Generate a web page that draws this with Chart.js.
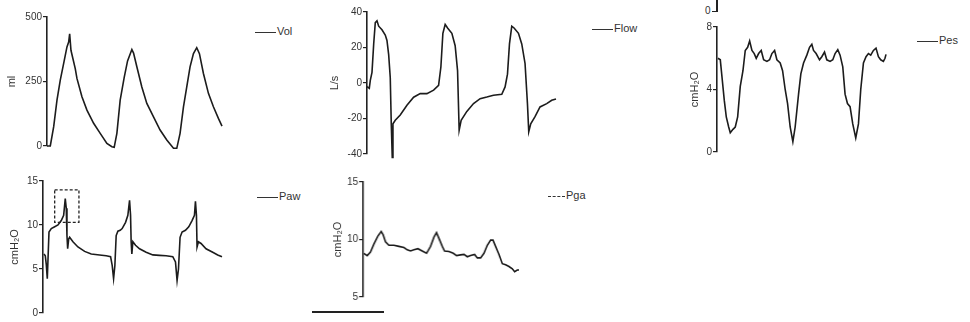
<!DOCTYPE html>
<html>
<head>
<meta charset="utf-8">
<script src="https://cdn.jsdelivr.net/npm/chart.js@4.4.1/dist/chart.umd.min.js"></script>
<style>
body{margin:0;background:#fff;width:970px;height:322px;position:relative;overflow:hidden;font-family:"Liberation Sans",Arial,sans-serif;}
.box{position:absolute;}
.leg{position:absolute;font-size:11px;color:#333;white-space:nowrap;line-height:12px;}
.leg span{display:inline-block;width:21px;border-top:1px solid #333;vertical-align:middle;margin-right:1px;}
.rule{position:absolute;background:#222;}
.lbl{position:absolute;font-size:10px;color:#333;}
</style>
</head>
<body>
<div class="leg" style="left:255px;top:25px"><span></span>Vol</div>
<div class="leg" style="left:592px;top:22px"><span></span>Flow</div>
<div class="leg" style="left:917px;top:34px"><span></span>Pes</div>
<div class="leg" style="left:257px;top:190px"><span></span>Paw</div>
<div class="leg" style="left:548px;top:189px"><span style="width:17px;border-top:1px dashed #333"></span>Pga</div>

<!-- remnant of the panel above Pes, and the scale bar under Pga -->
<div class="rule" style="left:716px;top:0;width:1.5px;height:12px"></div>
<div class="rule" style="left:712px;top:11px;width:5px;height:1px"></div>
<div class="lbl" style="left:705px;top:5px">0</div>
<div class="rule" style="left:312px;top:311px;width:72px;height:1.5px"></div>

<script>
// time = sample position along each trace
var volT = [0, 3.3, 6.7, 10, 13.3, 16.7, 20, 21.7, 22.7, 24, 28.3, 30, 35, 40, 46.7, 53.3, 60, 65, 67.3, 70, 73.3, 77.3, 80.7, 85, 86.7, 90, 95, 100, 106.7, 113.3, 120, 126.7, 130, 133.3, 136.7, 140, 143.3, 146.7, 150, 152.7, 156.7, 161.7, 166.7, 171.7, 175.3];
var volV = [0, 0, 75, 178, 255, 320, 384, 403, 435, 371, 300, 262, 191, 139, 88, 49, 10, -3, -5, 49, 178, 265, 330, 374, 360, 307, 229, 165, 113, 62, 23, -9, -9, 49, 152, 229, 307, 358, 381, 358, 281, 204, 152, 107, 77];

var flowT = [0, 2.3, 3.3, 5, 6.7, 8.3, 10, 11.7, 15, 18.3, 20, 21.7, 23.3, 24.3, 25.3, 26, 28.3, 33.3, 40, 46.7, 53.3, 60, 66.7, 71.7, 74, 76, 78.3, 80.7, 85, 88.3, 90.7, 92.3, 94.3, 100, 106.7, 113.3, 120, 126.7, 135, 138.3, 140.7, 142.7, 145, 147.3, 151.7, 155, 158.3, 160.7, 162, 164, 168.3, 173.3, 180, 185, 189.3];
var flowV = [-2, -3, 1.5, 6, 22, 34, 35, 32, 30, 27, 24, 16, 3, -23, -42, -23, -21, -18, -12.5, -8, -6, -6, -4, -1.3, 9, 28, 33, 31, 28, 21, 7, -26.6, -21, -16, -11.6, -8.8, -7.9, -6.9, -6.4, -2.2, 5, 22, 32, 31, 28, 22, 11, -11.6, -27.5, -23, -19, -13.5, -11.6, -9.7, -9];

var pesT = [1, 3.3, 5, 7.3, 9.3, 11.7, 13.3, 16, 18.3, 20.7, 23.3, 26, 28.3, 30.7, 32.7, 35, 37.3, 39.3, 41.7, 44.3, 46.7, 50, 52.7, 55, 57.7, 60, 63.3, 65.7, 68.3, 70.7, 73.3, 76, 78.3, 81.7, 84, 86.7, 90, 92.7, 95, 96.7, 99.3, 102.7, 105, 107.7, 110, 113.3, 116, 118.3, 121, 123.3, 126, 128.3, 130.7, 133.3, 136, 139, 141.7, 144, 146.7, 149.3, 151.7, 154, 156.7, 159.3, 161.7, 164, 166.7, 168.3, 169.3];
var pesV = [6.0, 5.9, 4.8, 3.3, 2.25, 1.6, 1.23, 1.45, 1.6, 2.25, 4.2, 5.2, 6.5, 6.7, 7.1, 6.5, 6.3, 6.0, 6.3, 6.5, 5.9, 5.8, 5.9, 6.3, 6.5, 5.9, 5.7, 5.2, 4.0, 3.1, 1.6, 0.66, 1.6, 3.7, 5.0, 5.7, 6.2, 6.7, 6.9, 6.5, 6.3, 5.9, 6.1, 6.4, 5.9, 5.8, 5.9, 6.3, 6.55, 6.2, 5.45, 3.7, 3.1, 2.9, 1.8, 0.9, 1.8, 4.0, 5.7, 6.1, 6.3, 6.2, 6.5, 6.65, 6.1, 5.9, 5.8, 6.0, 6.25];

var pawT = [1, 2.3, 3.3, 4.3, 6, 8.3, 11.7, 15, 18.3, 20.7, 22.3, 23.3, 24, 24.7, 25.7, 26.7, 30, 35, 41.7, 48.3, 56.7, 63.3, 67.7, 69.3, 70.7, 72, 73.3, 75, 77.3, 79.3, 82.7, 85, 86.7, 87.7, 88.3, 89, 90, 92.7, 96.7, 103.3, 110, 116.7, 123.3, 130, 132.7, 134.3, 135.7, 137.3, 139.3, 142.7, 146, 149.3, 151.7, 152.7, 153.7, 154.3, 155.7, 158.3, 163.3, 170, 175, 179.3];
var pawV = [6.7, 6.5, 5.5, 3.9, 9.2, 9.6, 9.8, 10, 10.5, 11.1, 13, 11.9, 8.8, 7.3, 8.4, 8.6, 8.1, 7.5, 7.0, 6.7, 6.6, 6.5, 6.4, 5.4, 3.9, 5.4, 8.8, 9.3, 9.4, 9.6, 10.3, 11.1, 12.8, 11.1, 8.1, 6.7, 8.1, 7.7, 7.3, 6.9, 6.6, 6.55, 6.5, 6.4, 5.8, 3.7, 5.0, 8.6, 9.2, 9.4, 9.8, 10.5, 11.1, 12.7, 11.1, 7.5, 8.1, 7.9, 7.3, 6.9, 6.6, 6.4];
// dashed box around first Paw peak: t from/to, cmH2O from/to
var pawBox = [11.7, 36, 10.3, 14.0];

var pgaT = [0.7, 4, 7.3, 10.7, 14.7, 18, 20, 22.3, 25.7, 30.7, 35.7, 40.7, 44, 47.3, 50.7, 54.7, 59, 63.3, 67.3, 70.7, 73.3, 75.7, 79, 81.3, 85.7, 90, 93.3, 97.3, 100.7, 104, 107.3, 111.3, 114, 117.3, 120.7, 124, 127.3, 129.7, 132.3, 135.7, 139, 142.3, 145.7, 149, 151.3, 154, 155.7];
var pgaV = [8.8, 8.6, 8.9, 9.6, 10.3, 10.7, 10.4, 9.8, 9.5, 9.5, 9.4, 9.3, 9.1, 9.0, 9.1, 9.2, 9.0, 8.8, 9.4, 10.2, 10.6, 10.1, 9.4, 9.0, 8.95, 8.8, 8.6, 8.66, 8.7, 8.5, 8.6, 8.7, 8.4, 8.4, 8.8, 9.5, 9.95, 9.95, 9.4, 8.7, 7.9, 7.8, 7.65, 7.45, 7.2, 7.35, 7.35];

var dashBox = {
  id: 'dashBox',
  afterDatasetsDraw: function(chart, args, opts) {
    if (!opts.box) return;
    var b = opts.box, x = chart.scales.x, y = chart.scales.y, c = chart.ctx;
    var x0 = x.getPixelForValue(b[0]), x1 = x.getPixelForValue(b[1]);
    var y0 = y.getPixelForValue(b[3]), y1 = y.getPixelForValue(b[2]);
    c.save();
    c.strokeStyle = '#222';
    c.lineWidth = 1.3;
    c.setLineDash([3, 2]);
    c.strokeRect(x0, y0, x1 - x0, y1 - y0);
    c.restore();
  }
};

function panel(t, v, o) {
  var tMax = t[t.length - 1];
  var div = document.createElement('div');
  div.className = 'box';
  var w = o.yw + tMax + 4, h = o.bottom - o.top + 20;
  div.style.left = (o.axis - o.yw) + 'px';
  div.style.top = (o.top - 10) + 'px';
  var cv = document.createElement('canvas');
  cv.width = w; cv.height = h;
  cv.style.width = w + 'px'; cv.style.height = h + 'px';
  div.appendChild(cv);
  document.body.appendChild(div);

  new Chart(cv.getContext('2d'), {
    type: 'line',
    data: {
      datasets: [{
        data: t.map(function(x, i) { return {x: x, y: v[i]}; }),
        borderColor: '#1c1c1c',
        borderWidth: 1.6,
        pointRadius: 0,
        tension: 0,
        clip: false
      }]
    },
    options: {
      responsive: false,
      animation: false,
      layout: {padding: {top: 10, bottom: 10, left: 0, right: 4}},
      plugins: {
        legend: {display: false},
        tooltip: {enabled: false},
        dashBox: {box: o.box}
      },
      scales: {
        x: {type: 'linear', display: false, min: 0, max: tMax},
        y: {
          min: o.min, max: o.max,
          afterFit: function(s) { s.width = o.yw; },
          ticks: {stepSize: o.step, font: {size: 10, family: 'Liberation Sans'}, color: '#333', padding: 1},
          grid: {display: true, drawOnChartArea: false, tickLength: 4, color: '#222', lineWidth: 1.2},
          border: {display: true, color: '#222', width: 1.6},
          title: {display: true, text: o.title, color: '#333',
                  font: {size: 11, family: 'Liberation Sans'},
                  padding: {top: o.titleX - (o.axis - o.yw) - 6.6, bottom: 0}}
        }
      }
    },
    plugins: [dashBox]
  });
}

panel(volT, volV, {axis: 47, yw: 47, top: 17, bottom: 146, min: 0, max: 500, step: 250, title: 'ml', titleX: 12});
panel(flowT, flowV, {axis: 367, yw: 42, top: 12, bottom: 154, min: -40, max: 40, step: 20, title: 'L/s', titleX: 335});
panel(pesT, pesV, {axis: 717, yw: 30, top: 27, bottom: 152, min: 0, max: 8, step: 4, title: 'cmH\u2082O', titleX: 695});
panel(pawT, pawV, {axis: 43, yw: 43, top: 181, bottom: 313, min: 0, max: 15, step: 5, title: 'cmH\u2082O', titleX: 15, box: pawBox});
panel(pgaT, pgaV, {axis: 363, yw: 32, top: 182, bottom: 297, min: 5, max: 15, step: 5, title: 'cmH\u2082O', titleX: 338});
</script>
</body>
</html>
